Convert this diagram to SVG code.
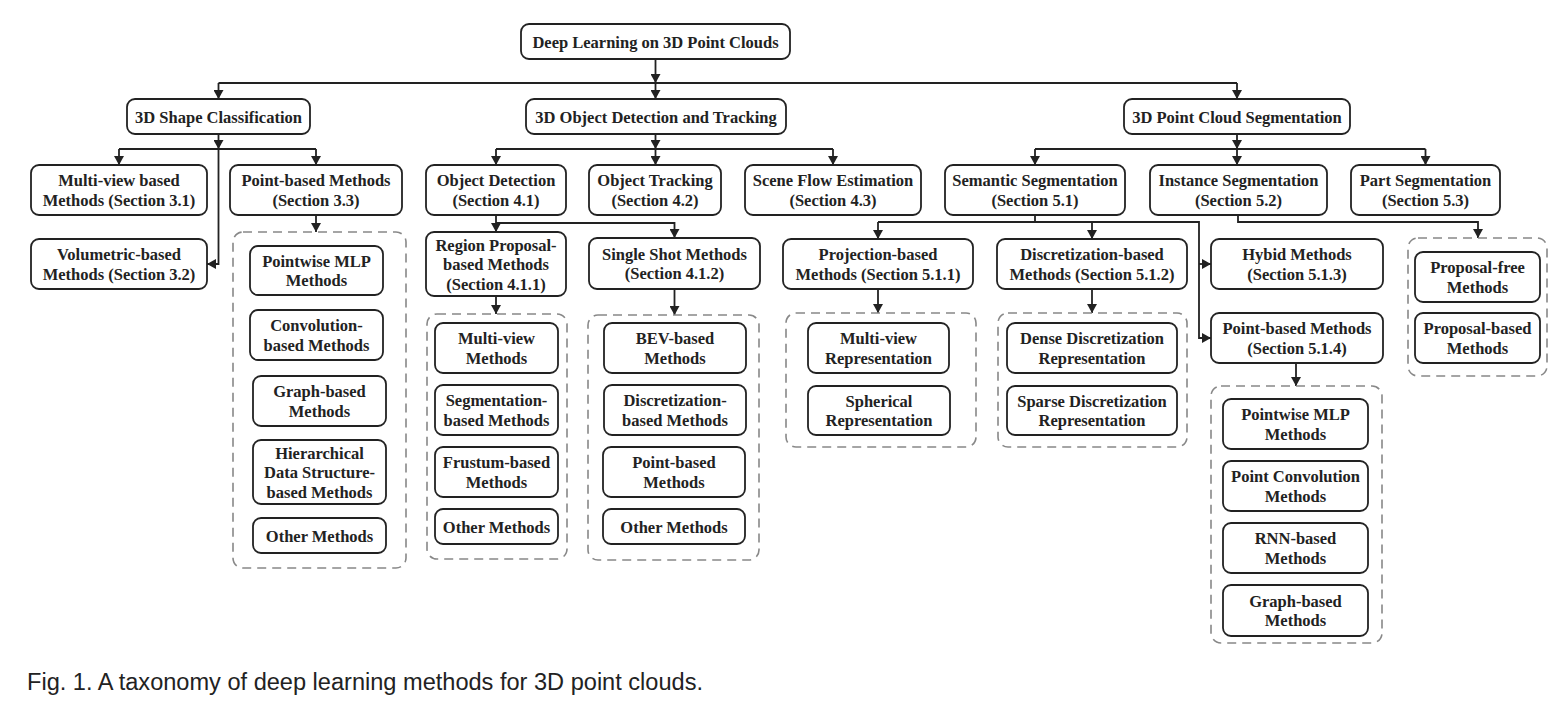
<svg xmlns="http://www.w3.org/2000/svg" width="1564" height="709" viewBox="0 0 1564 709">
<style>
.n{fill:#fff;stroke:#222;stroke-width:1.8}
.d{fill:none;stroke:#888;stroke-width:1.6;stroke-dasharray:9,6}
.t{font-family:"Liberation Serif","Times New Roman",serif;font-weight:bold;font-size:16.5px;fill:#222;text-anchor:middle}
.c{fill:none;stroke:#222;stroke-width:1.8}
.cap{font-family:"Liberation Sans",Arial,sans-serif;font-size:23.3px;fill:#222}
</style>
<defs>
<marker id="a" markerUnits="userSpaceOnUse" markerWidth="9" markerHeight="10" refX="9" refY="5" orient="auto">
<path d="M0,0 L9,5 L0,10 z" fill="#222"/>
</marker>
</defs>
<rect width="1564" height="709" fill="#fff"/>
<g id="connectors">
<path class="c" d="M655.5 59 V83" marker-end="url(#a)"/>
<path class="c" d="M218.5 83 H1237"/>
<path class="c" d="M218.5 83 V99" marker-end="url(#a)"/>
<path class="c" d="M655.5 83 V99" marker-end="url(#a)"/>
<path class="c" d="M1237 83 V99" marker-end="url(#a)"/>
<path class="c" d="M218.5 134 V149" marker-end="url(#a)"/>
<path class="c" d="M119 149 H316"/>
<path class="c" d="M119 149 V165" marker-end="url(#a)"/>
<path class="c" d="M316 149 V165" marker-end="url(#a)"/>
<path class="c" d="M218.5 149 V264 H207" marker-end="url(#a)"/>
<path class="c" d="M316 215 V232" marker-end="url(#a)"/>
<path class="c" d="M655.5 134 V149" marker-end="url(#a)"/>
<path class="c" d="M496 149 H833"/>
<path class="c" d="M496 149 V165" marker-end="url(#a)"/>
<path class="c" d="M655.5 149 V165" marker-end="url(#a)"/>
<path class="c" d="M833 149 V165" marker-end="url(#a)"/>
<path class="c" d="M496 215 V232" marker-end="url(#a)"/>
<path class="c" d="M496 223 H674.5 V238" marker-end="url(#a)"/>
<path class="c" d="M496 296 V314" marker-end="url(#a)"/>
<path class="c" d="M674.5 289 V315" marker-end="url(#a)"/>
<path class="c" d="M1237 134 V149" marker-end="url(#a)"/>
<path class="c" d="M1035 149 H1425.5"/>
<path class="c" d="M1035 149 V165" marker-end="url(#a)"/>
<path class="c" d="M1237 149 V165" marker-end="url(#a)"/>
<path class="c" d="M1425.5 149 V165" marker-end="url(#a)"/>
<path class="c" d="M1035 215 V222"/>
<path class="c" d="M878 222 H1199 V338 H1211" marker-end="url(#a)"/>
<path class="c" d="M878 222 V239" marker-end="url(#a)"/>
<path class="c" d="M1092 222 V239" marker-end="url(#a)"/>
<path class="c" d="M1199 264 H1211" marker-end="url(#a)"/>
<path class="c" d="M878 289 V313" marker-end="url(#a)"/>
<path class="c" d="M1092 289 V313" marker-end="url(#a)"/>
<path class="c" d="M1296 363 V386" marker-end="url(#a)"/>
<path class="c" d="M1238 215 V222 H1478 V238" marker-end="url(#a)"/>
</g>
<g id="groups">
<rect id="grp-shape-point" class="d" x="233" y="232" width="173" height="336" rx="10"/>
<rect id="grp-region" class="d" x="427" y="314" width="140" height="245" rx="10"/>
<rect id="grp-single" class="d" x="588" y="315" width="171" height="245" rx="10"/>
<rect id="grp-proj" class="d" x="786" y="313" width="190" height="134" rx="10"/>
<rect id="grp-disc" class="d" x="998" y="313" width="189" height="134" rx="10"/>
<rect id="grp-pb" class="d" x="1211" y="386" width="171" height="257" rx="10"/>
<rect id="grp-inst" class="d" x="1408" y="238" width="139" height="138" rx="10"/>
</g>
<g id="root"><rect class="n" x="521" y="24" width="269" height="35" rx="8"/><text class="t" x="655.5" y="47.5">Deep Learning on 3D Point Clouds</text></g>
<g id="shape"><rect class="n" x="127" y="99" width="183" height="35" rx="8"/><text class="t" x="218.5" y="122.5">3D Shape Classification</text></g>
<g id="det"><rect class="n" x="526" y="99" width="260" height="35" rx="8"/><text class="t" x="656" y="122.5">3D Object Detection and Tracking</text></g>
<g id="seg"><rect class="n" x="1124" y="99" width="226" height="35" rx="8"/><text class="t" x="1237" y="122.5">3D Point Cloud Segmentation</text></g>
<g id="mv31"><rect class="n" x="31" y="165" width="176" height="50" rx="8"/><text class="t" x="119" y="186"><tspan x="119">Multi-view based</tspan><tspan x="119" y="205.5">Methods (Section 3.1)</tspan></text></g>
<g id="pb33"><rect class="n" x="230" y="165" width="172" height="50" rx="8"/><text class="t" x="316" y="186"><tspan x="316">Point-based Methods</tspan><tspan x="316" y="205.5">(Section 3.3)</tspan></text></g>
<g id="vol32"><rect class="n" x="31" y="239" width="176" height="50" rx="8"/><text class="t" x="119" y="260"><tspan x="119">Volumetric-based</tspan><tspan x="119" y="279.5">Methods (Section 3.2)</tspan></text></g>
<g id="pwmlp1"><rect class="n" x="250" y="246" width="133" height="49" rx="8"/><text class="t" x="316.5" y="266.5"><tspan x="316.5">Pointwise MLP</tspan><tspan x="316.5" y="286">Methods</tspan></text></g>
<g id="conv1"><rect class="n" x="250" y="310" width="133" height="50" rx="8"/><text class="t" x="316.5" y="331"><tspan x="316.5">Convolution-</tspan><tspan x="316.5" y="350.5">based Methods</tspan></text></g>
<g id="graph1"><rect class="n" x="253" y="376" width="133" height="50" rx="8"/><text class="t" x="319.5" y="397"><tspan x="319.5">Graph-based</tspan><tspan x="319.5" y="416.5">Methods</tspan></text></g>
<g id="hier1"><rect class="n" x="253" y="440" width="133" height="64" rx="8"/><text class="t" x="319.5" y="458.5"><tspan x="319.5">Hierarchical</tspan><tspan x="319.5" y="478">Data Structure-</tspan><tspan x="319.5" y="497.5">based Methods</tspan></text></g>
<g id="other1"><rect class="n" x="253" y="518" width="133" height="35" rx="8"/><text class="t" x="319.5" y="541.5">Other Methods</text></g>
<g id="od41"><rect class="n" x="426" y="165" width="140" height="50" rx="8"/><text class="t" x="496" y="186"><tspan x="496">Object Detection</tspan><tspan x="496" y="205.5">(Section 4.1)</tspan></text></g>
<g id="ot42"><rect class="n" x="589" y="165" width="132" height="50" rx="8"/><text class="t" x="655" y="186"><tspan x="655">Object Tracking</tspan><tspan x="655" y="205.5">(Section 4.2)</tspan></text></g>
<g id="sf43"><rect class="n" x="745" y="165" width="176" height="50" rx="8"/><text class="t" x="833" y="186"><tspan x="833">Scene Flow Estimation</tspan><tspan x="833" y="205.5">(Section 4.3)</tspan></text></g>
<g id="rp411"><rect class="n" x="426" y="232" width="140" height="64" rx="8"/><text class="t" x="496" y="250.5"><tspan x="496">Region Proposal-</tspan><tspan x="496" y="270">based Methods</tspan><tspan x="496" y="289.5">(Section 4.1.1)</tspan></text></g>
<g id="ss412"><rect class="n" x="589" y="238" width="171" height="51" rx="8"/><text class="t" x="674.5" y="259.5"><tspan x="674.5">Single Shot Methods</tspan><tspan x="674.5" y="279">(Section 4.1.2)</tspan></text></g>
<g id="mvm"><rect class="n" x="435" y="323" width="123" height="50" rx="8"/><text class="t" x="496.5" y="344"><tspan x="496.5">Multi-view</tspan><tspan x="496.5" y="363.5">Methods</tspan></text></g>
<g id="segm"><rect class="n" x="435" y="385" width="123" height="50" rx="8"/><text class="t" x="496.5" y="406"><tspan x="496.5">Segmentation-</tspan><tspan x="496.5" y="425.5">based Methods</tspan></text></g>
<g id="frus"><rect class="n" x="435" y="447" width="123" height="50" rx="8"/><text class="t" x="496.5" y="468"><tspan x="496.5">Frustum-based</tspan><tspan x="496.5" y="487.5">Methods</tspan></text></g>
<g id="other2"><rect class="n" x="435" y="509" width="123" height="35" rx="8"/><text class="t" x="496.5" y="532.5">Other Methods</text></g>
<g id="bev"><rect class="n" x="604" y="323" width="142" height="50" rx="8"/><text class="t" x="675" y="344"><tspan x="675">BEV-based</tspan><tspan x="675" y="363.5">Methods</tspan></text></g>
<g id="disc2"><rect class="n" x="604" y="385" width="142" height="50" rx="8"/><text class="t" x="675" y="406"><tspan x="675">Discretization-</tspan><tspan x="675" y="425.5">based Methods</tspan></text></g>
<g id="pb2"><rect class="n" x="603" y="447" width="142" height="50" rx="8"/><text class="t" x="674" y="468"><tspan x="674">Point-based</tspan><tspan x="674" y="487.5">Methods</tspan></text></g>
<g id="other3"><rect class="n" x="603" y="509" width="142" height="35" rx="8"/><text class="t" x="674" y="532.5">Other Methods</text></g>
<g id="sem51"><rect class="n" x="945" y="165" width="180" height="50" rx="8"/><text class="t" x="1035" y="186"><tspan x="1035">Semantic Segmentation</tspan><tspan x="1035" y="205.5">(Section 5.1)</tspan></text></g>
<g id="inst52"><rect class="n" x="1150" y="165" width="177" height="50" rx="8"/><text class="t" x="1238.5" y="186"><tspan x="1238.5">Instance Segmentation</tspan><tspan x="1238.5" y="205.5">(Section 5.2)</tspan></text></g>
<g id="part53"><rect class="n" x="1351" y="165" width="149" height="50" rx="8"/><text class="t" x="1425.5" y="186"><tspan x="1425.5">Part Segmentation</tspan><tspan x="1425.5" y="205.5">(Section 5.3)</tspan></text></g>
<g id="proj511"><rect class="n" x="783" y="239" width="190" height="50" rx="8"/><text class="t" x="878" y="260"><tspan x="878">Projection-based</tspan><tspan x="878" y="279.5">Methods (Section 5.1.1)</tspan></text></g>
<g id="disc512"><rect class="n" x="997" y="239" width="190" height="50" rx="8"/><text class="t" x="1092" y="260"><tspan x="1092">Discretization-based</tspan><tspan x="1092" y="279.5">Methods (Section 5.1.2)</tspan></text></g>
<g id="hyb513"><rect class="n" x="1211" y="239" width="172" height="50" rx="8"/><text class="t" x="1297" y="260"><tspan x="1297">Hybid Methods</tspan><tspan x="1297" y="279.5">(Section 5.1.3)</tspan></text></g>
<g id="pb514"><rect class="n" x="1211" y="313" width="172" height="50" rx="8"/><text class="t" x="1297" y="334"><tspan x="1297">Point-based Methods</tspan><tspan x="1297" y="353.5">(Section 5.1.4)</tspan></text></g>
<g id="mvrep"><rect class="n" x="808" y="323" width="141" height="50" rx="8"/><text class="t" x="878.5" y="344"><tspan x="878.5">Multi-view</tspan><tspan x="878.5" y="363.5">Representation</tspan></text></g>
<g id="sphrep"><rect class="n" x="808" y="386" width="142" height="49" rx="8"/><text class="t" x="879" y="406.5"><tspan x="879">Spherical</tspan><tspan x="879" y="426">Representation</tspan></text></g>
<g id="dense"><rect class="n" x="1007" y="323" width="170" height="50" rx="8"/><text class="t" x="1092" y="344"><tspan x="1092">Dense Discretization</tspan><tspan x="1092" y="363.5">Representation</tspan></text></g>
<g id="sparse"><rect class="n" x="1007" y="386" width="170" height="49" rx="8"/><text class="t" x="1092" y="406.5"><tspan x="1092">Sparse Discretization</tspan><tspan x="1092" y="426">Representation</tspan></text></g>
<g id="pwmlp2"><rect class="n" x="1223" y="399" width="145" height="50" rx="8"/><text class="t" x="1295.5" y="420"><tspan x="1295.5">Pointwise MLP</tspan><tspan x="1295.5" y="439.5">Methods</tspan></text></g>
<g id="pconv"><rect class="n" x="1223" y="461" width="145" height="50" rx="8"/><text class="t" x="1295.5" y="482"><tspan x="1295.5">Point Convolution</tspan><tspan x="1295.5" y="501.5">Methods</tspan></text></g>
<g id="rnn"><rect class="n" x="1223" y="523" width="145" height="50" rx="8"/><text class="t" x="1295.5" y="544"><tspan x="1295.5">RNN-based</tspan><tspan x="1295.5" y="563.5">Methods</tspan></text></g>
<g id="graph2"><rect class="n" x="1223" y="585" width="145" height="51" rx="8"/><text class="t" x="1295.5" y="606.5"><tspan x="1295.5">Graph-based</tspan><tspan x="1295.5" y="626">Methods</tspan></text></g>
<g id="pfree"><rect class="n" x="1415" y="252" width="125" height="50" rx="8"/><text class="t" x="1477.5" y="273"><tspan x="1477.5">Proposal-free</tspan><tspan x="1477.5" y="292.5">Methods</tspan></text></g>
<g id="pbased"><rect class="n" x="1415" y="313" width="125" height="50" rx="8"/><text class="t" x="1477.5" y="334"><tspan x="1477.5">Proposal-based</tspan><tspan x="1477.5" y="353.5">Methods</tspan></text></g>
<text class="cap" x="27" y="690" textLength="676" lengthAdjust="spacingAndGlyphs">Fig. 1. A taxonomy of deep learning methods for 3D point clouds.</text>
</svg>
